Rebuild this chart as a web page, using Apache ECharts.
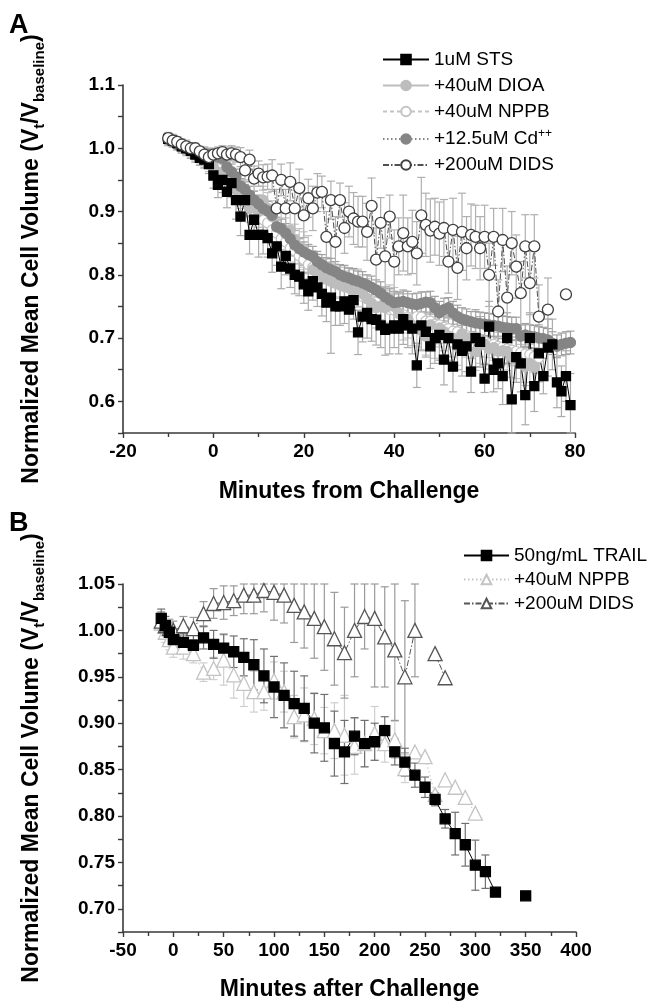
<!DOCTYPE html>
<html><head><meta charset="utf-8">
<script src="https://cdn.jsdelivr.net/npm/echarts@6/dist/echarts.min.js"></script>
<style>html,body{margin:0;padding:0;background:#fff}#c{width:652px;height:1003px}</style>
</head><body><div id="c"></div>
<script>
// ---------- Panel A data (minutes from challenge) ----------
const timeA = [-10,-9,-8,-7,-6,-5,-4,-3,-2,-1,0,1,2,3,4,5,6,7,8,9,10,11,12,13,14,15,16,17,18,19,20,21,22,23,24,25,26,27,28,29,30,31,32,33,34,35,36,37,38,39,40,41,42,43,44,45,46,47,48,49,50,51,52,53,54,55,56,57,58,59,60,61,62,63,64,65,66,67,68,69,70,71,72,73,74,75,76,77,78,79];
const stsA = [1.015,1.012,1.008,1.003,1.000,0.996,0.990,0.985,0.982,0.975,
 0.957,0.942,0.950,0.931,0.945,0.918,0.892,0.918,0.863,0.887,
 0.863,0.863,0.858,0.834,0.845,0.813,0.830,0.810,0.800,0.797,
 0.785,0.774,0.790,0.780,0.770,0.756,0.764,0.750,0.750,0.758,
 0.745,0.760,0.709,0.734,0.740,0.730,0.729,0.720,0.713,0.715,
 0.720,0.715,0.730,0.720,0.715,0.657,0.720,0.710,0.687,0.700,
 0.705,0.666,0.700,0.655,0.690,0.680,0.687,0.647,0.700,0.694,
 0.636,0.718,0.650,0.660,0.640,0.700,0.603,0.670,0.660,0.610,
 0.700,0.624,0.676,0.640,0.685,0.690,0.630,0.616,0.640,0.594];
const stsErrA = [0.010,0.010,0.010,0.010,0.010,0.012,0.012,0.012,0.012,0.015,
 0.020,0.020,0.020,0.025,0.020,0.030,0.030,0.025,0.030,0.030,
 0.035,0.030,0.030,0.030,0.030,0.035,0.030,0.030,0.030,0.030,
 0.030,0.030,0.030,0.030,0.035,0.030,0.088,0.030,0.030,0.035,
 0.035,0.030,0.035,0.040,0.040,0.035,0.040,0.035,0.040,0.040,
 0.035,0.040,0.040,0.035,0.040,0.035,0.040,0.040,0.035,0.040,
 0.040,0.040,0.035,0.040,0.040,0.040,0.040,0.033,0.045,0.040,
 0.022,0.040,0.035,0.040,0.045,0.040,0.070,0.040,0.045,0.047,
 0.040,0.040,0.045,0.028,0.045,0.040,0.040,0.040,0.040,0.050];
const dioaA = [1.012,1.010,1.005,1.000,0.998,0.995,0.990,0.985,0.980,0.975,
 0.970,0.962,0.955,0.948,0.940,0.935,0.925,0.918,0.905,0.910,
 0.900,0.918,0.905,0.892,0.876,0.872,0.865,0.871,0.855,0.845,
 0.840,0.832,0.808,0.805,0.797,0.795,0.790,0.787,0.784,0.782,
 0.780,0.776,0.779,0.770,0.762,0.755,0.748,0.750,0.748,0.752,
 0.750,0.740,0.727,0.730,0.720,0.716,0.712,0.703,0.721,0.698,
 0.716,0.710,0.703,0.700,0.687,0.707,0.700,0.700,0.679,0.690,
 0.690,0.683,0.685,0.679,0.680,0.679,0.670,0.666,0.660,0.655,
 0.660,0.654,null,null,null,null,null,null,null,null];
const dioaErrA = [0.008,0.008,0.008,0.008,0.010,0.010,0.010,0.010,0.012,0.012,
 0.015,0.015,0.015,0.018,0.018,0.020,0.020,0.020,0.022,0.022,
 0.025,0.022,0.025,0.025,0.025,0.025,0.025,0.028,0.025,0.028,
 0.028,0.030,0.030,0.028,0.030,0.030,0.030,0.030,0.032,0.030,
 0.030,0.032,0.030,0.030,0.032,0.030,0.032,0.030,0.030,0.032,
 0.030,0.032,0.030,0.030,0.032,0.030,0.030,0.030,0.032,0.030,
 0.030,0.030,0.032,0.030,0.030,0.030,0.030,0.032,0.030,0.030,
 0.030,0.032,0.030,0.030,0.030,0.030,0.032,0.030,0.030,0.030,
 0.030,0.030,null,null,null,null,null,null,null,null];
const nppbA = [1.016,1.013,1.010,1.005,1.003,0.998,0.996,0.990,0.986,0.980,
 0.974,0.968,0.962,0.952,0.947,0.936,0.929,0.918,0.911,0.902,
 0.897,0.887,0.882,0.871,0.866,0.857,0.852,0.842,0.838,0.830,
 0.824,0.816,0.812,0.804,0.800,0.794,0.792,0.787,0.785,0.781,
 0.779,0.774,0.772,0.766,0.763,0.759,0.757,0.751,0.750,0.745,
 0.744,0.739,0.737,0.733,0.731,0.734,0.733,0.727,0.727,0.722,
 0.721,0.717,0.715,0.711,0.710,0.706,0.704,0.701,0.699,0.696,
 0.695,0.691,0.690,0.687,0.686,0.683,0.681,0.679,0.677,0.675,
 0.674,0.671,0.669,null,null,null,null,null,null,null];
const nppbErrA = [0.008,0.008,0.008,0.010,0.010,0.010,0.010,0.012,0.012,0.012,
 0.015,0.015,0.015,0.018,0.018,0.018,0.020,0.020,0.020,0.020,
 0.022,0.020,0.022,0.022,0.020,0.022,0.022,0.022,0.020,0.022,
 0.022,0.022,0.020,0.022,0.022,0.022,0.025,0.022,0.022,0.025,
 0.022,0.025,0.022,0.022,0.025,0.022,0.025,0.022,0.025,0.022,
 0.025,0.022,0.025,0.025,0.022,0.025,0.022,0.025,0.025,0.022,
 0.025,0.025,0.022,0.025,0.025,0.025,0.022,0.025,0.025,0.025,
 0.025,0.022,0.025,0.025,0.025,0.025,0.025,0.022,0.025,0.025,
 0.025,0.025,0.025,null,null,null,null,null,null,null];
const cdA = [1.014,1.010,1.006,1.003,1.000,0.998,0.996,0.994,0.992,0.990,
 0.988,0.986,0.984,0.970,0.963,0.955,0.940,0.935,0.926,0.918,
 0.912,0.905,0.901,0.894,0.876,0.873,0.866,0.857,0.847,0.841,
 0.836,0.832,0.829,0.821,0.816,0.811,0.808,0.805,0.800,0.797,
 0.795,0.792,0.790,0.787,0.784,0.780,0.776,0.771,0.765,0.760,
 0.756,0.757,0.758,0.756,0.754,0.753,0.755,0.757,0.756,0.748,
 0.740,0.745,0.748,0.740,0.734,0.730,0.728,0.726,0.724,0.723,
 0.722,0.721,0.720,0.719,0.717,0.716,0.715,0.715,0.703,0.705,
 0.703,0.702,0.700,0.699,0.697,0.692,0.687,0.690,0.692,0.693];
const cdErrA = [0.006,0.006,0.006,0.008,0.008,0.008,0.008,0.008,0.010,0.010,
 0.010,0.010,0.010,0.012,0.012,0.012,0.012,0.012,0.014,0.014,
 0.014,0.014,0.015,0.015,0.015,0.015,0.015,0.015,0.016,0.016,
 0.016,0.016,0.016,0.016,0.016,0.016,0.018,0.016,0.016,0.018,
 0.016,0.018,0.016,0.018,0.016,0.018,0.016,0.018,0.016,0.018,
 0.018,0.016,0.018,0.018,0.016,0.018,0.018,0.016,0.018,0.018,
 0.018,0.018,0.016,0.018,0.018,0.018,0.018,0.016,0.018,0.018,
 0.018,0.018,0.018,0.016,0.018,0.018,0.018,0.018,0.018,0.018,
 0.018,0.018,0.018,0.018,0.018,0.018,0.018,0.018,0.018,0.018];
const didsA = [1.016,1.012,1.010,1.006,1.003,1.000,1.000,0.995,0.990,0.986,
 0.990,0.992,0.994,0.990,0.992,0.990,0.986,0.965,0.982,0.952,
 0.960,0.954,0.955,0.957,0.905,0.950,0.905,0.947,0.905,0.937,
 0.894,0.921,0.905,0.930,0.931,0.860,0.918,0.852,0.918,0.874,
 0.900,0.889,0.884,0.884,0.868,0.909,0.824,0.882,0.829,0.892,
 0.821,0.845,0.866,0.845,0.852,0.834,0.894,0.879,0.870,0.876,
 0.865,0.874,0.821,0.871,0.811,0.868,0.842,0.863,0.860,0.842,
 0.860,0.800,0.860,0.742,0.855,0.764,0.850,0.813,0.771,0.845,
 0.787,0.845,0.734,null,0.745,null,null,null,0.769,null];
const didsErrA = [0.008,0.008,0.008,0.008,0.008,0.008,0.008,0.008,0.008,0.008,
 0.010,0.010,0.010,0.012,0.012,0.012,0.015,0.015,0.015,0.020,
 0.020,0.020,0.020,0.025,0.030,0.025,0.030,0.030,0.035,0.030,
 0.035,0.030,0.035,0.030,0.025,0.040,0.030,0.040,0.027,0.040,
 0.040,0.041,0.040,0.040,0.045,0.044,0.050,0.040,0.050,0.034,
 0.050,0.045,0.060,0.045,0.050,0.050,0.060,0.050,0.050,0.045,
 0.050,0.045,0.050,0.050,0.050,0.061,0.050,0.049,0.050,0.050,
 0.050,0.050,0.045,0.050,0.050,0.050,0.050,0.050,0.050,0.050,
 0.050,0.050,0.050,null,0.050,null,null,null,0,null];

// ---------- Panel B data (minutes after challenge) ----------
const timeB = [-12,-8,-4,0,10,20,30,40,50,60,70,80,90,100,110,120,130,140,150,160,170,180,190,200,210,220,230,240,250,260,270,280,290,300,310,320,330,350];
const trailB = [1.013,1.005,0.998,0.990,0.987,0.984,0.992,0.985,0.981,0.977,0.971,0.963,0.951,0.939,0.930,0.921,0.916,0.900,0.895,0.878,0.869,0.886,0.878,0.880,0.892,0.869,0.858,0.844,0.831,0.818,0.797,0.781,0.769,0.747,0.740,0.718,null,0.714];
const trailErrB = [0.010,0.010,0.010,0.010,0.010,0.012,0.012,0.015,0.015,0.017,0.020,0.027,0.029,0.033,0.035,0.035,0.035,0.032,0.036,0.035,0.034,0.020,0.025,0.020,0.015,0.014,0.015,0.013,0.011,0.007,0.010,0.023,0.023,0.027,0.018,0,null,0];
const nppbB = [1.008,0.998,0.990,0.982,0.982,0.975,0.955,0.959,0.968,0.952,0.943,0.934,0.934,0.946,0.934,0.907,0.909,0.905,0.892,0.892,0.887,0.875,0.878,0.889,0.878,0.882,0.851,0.869,0.864,0.823,0.839,0.831,0.820,0.803,null,null,null,null];
const nppbErrB = [0.011,0.011,0.011,0.011,0.013,0.010,0.010,0.012,0.027,0.025,0.025,0.022,0.020,0.020,0.022,0.023,0.029,0.028,0.025,0.030,0.043,0.030,0.025,0.029,0.020,0.020,0.015,0,0,0,0,0,0,0,null,null,null,null];
const didsB = [1.010,1.005,1.002,1.000,1.005,1.002,1.018,1.029,1.030,1.032,1.038,1.038,1.043,1.041,1.038,1.027,1.020,1.013,1.004,0.991,0.976,1.000,1.015,1.013,0.993,0.979,0.950,1.000,null,0.975,0.949,null,null,null,null,null,null,null];
const didsErrB = [0.010,0.010,0.010,0.010,0.010,0.012,0.013,0.016,0.018,0.016,0.020,0.020,0.023,0.030,0.030,0.040,0.039,0.043,0.047,0.050,0.049,0.050,0.035,0.074,0.054,0.076,0.082,0.050,null,0,0,null,null,null,null,null,null,null];

// ---------- chart ----------
const FONT = 'Liberation Sans, Arial, sans-serif';
const AX = '#3a3a3a';
function pairs(xs, ys){ return xs.map((x,i)=>[x, ys[i]==null ? null : ys[i]]); }
function triples(xs, ys, es){ const out=[]; xs.forEach((x,i)=>{ if(ys[i]!=null && es[i]) out.push([x, ys[i], es[i]]); }); return out; }

function errSeries(idx, data, color){
  return {
    type:'custom', xAxisIndex:idx, yAxisIndex:idx, data:data, silent:true,
    encode:{x:0, y:1},
    renderItem:function(params, api){
      const x=api.value(0), y=api.value(1), e=api.value(2);
      const cs=params.coordSys;
      const p1=api.coord([x, y+e]), p2=api.coord([x, y-e]);
      p1[1]=Math.max(p1[1], cs.y); p2[1]=Math.min(p2[1], cs.y+cs.height);
      const w=4, st={stroke:color, lineWidth:1.2};
      return {type:'group', children:[
        {type:'line', shape:{x1:p1[0],y1:p1[1],x2:p2[0],y2:p2[1]}, style:st},
        {type:'line', shape:{x1:p1[0]-w,y1:p1[1],x2:p1[0]+w,y2:p1[1]}, style:st},
        {type:'line', shape:{x1:p2[0]-w,y1:p2[1],x2:p2[0]+w,y2:p2[1]}, style:st}
      ]};
    }
  };
}
function lineSeries(idx, name, data, symbol, size, fill, stroke, lineColor, lineType){
  return {
    type:'line', name:name, xAxisIndex:idx, yAxisIndex:idx, data:data,
    symbol:symbol, symbolSize:size, showSymbol:true, connectNulls:false,
    itemStyle:{color:fill, borderColor:stroke, borderWidth:1.3, opacity:1},
    lineStyle:{color:lineColor, width:1, type:lineType},
    emphasis:{disabled:true}
  };
}

const tickLabel = {fontFamily:FONT, fontWeight:'bold', fontSize:19, color:'#000'};
const axisCommon = {
  axisLine:{show:true, onZero:false, lineStyle:{color:AX, width:1.6}},
  axisTick:{show:true, length:5, lineStyle:{color:AX, width:1.4}},
  splitLine:{show:false}
};
const yName = {
  fontFamily:FONT, fontWeight:'bold', fontSize:23, color:'#000',
  rich:{
    n:{fontFamily:FONT, fontWeight:'bold', fontSize:23, lineHeight:30, color:'#000'},
    s:{fontFamily:FONT, fontWeight:'bold', fontSize:15, lineHeight:14, verticalAlign:'bottom', color:'#000'}
  }
};
const yTitle = '{n|Normalized Mean Cell Volume (V}{s|t}{n|/V}{s|baseline}{n|)}';

const chart = echarts.init(document.getElementById('c'), null, {renderer:'canvas', width:652, height:1003});
chart.setOption({
  animation:false,
  backgroundColor:'#fff',
  graphic:[
    {type:'text', left:9, top:12, style:{text:'A', font:'bold 27px '+FONT, fill:'#000'}},
    {type:'text', left:9, top:510, style:{text:'B', font:'bold 27px '+FONT, fill:'#000'}}
  ],
  grid:[
    {left:123, top:85, width:452, height:348},
    {left:123, top:584, width:453, height:348}
  ],
  legend:[
    {data:['1uM STS','+40uM DIOA','+40uM NPPB','+12.5uM Cd++','+200uM DIDS'],
     orient:'vertical', left:377, top:45, itemWidth:46, itemHeight:12, itemGap:7,
     selectedMode:false,
     formatter:function(n){ return n.indexOf('Cd')>=0 ? '{n|+12.5uM Cd}{p|++}' : '{n|'+n+'}'; },
     textStyle:{fontFamily:FONT, fontSize:19, color:'#000',
       rich:{n:{fontFamily:FONT, fontSize:19, lineHeight:22, color:'#000'},
             p:{fontFamily:FONT, fontSize:12, lineHeight:12, verticalAlign:'top', color:'#000'}}}},
    {data:['50ng/mL TRAIL','+40uM NPPB ','+200uM DIDS '],
     orient:'vertical', left:458, top:541, itemWidth:45, itemHeight:12, itemGap:5,
     selectedMode:false,
     formatter:function(n){ return n.trim(); },
     textStyle:{fontFamily:FONT, fontSize:19, color:'#000'}}
  ],
  xAxis:[
    Object.assign({}, axisCommon, {gridIndex:0, type:'value', min:-20, max:80, interval:20,
      minorTick:{show:true, splitNumber:2, length:4, lineStyle:{color:AX, width:1.4}},
      axisLabel:Object.assign({margin:9}, tickLabel),
      name:'Minutes from Challenge', nameLocation:'middle', nameGap:47,
      nameTextStyle:{fontFamily:FONT, fontWeight:'bold', fontSize:23, color:'#000'}}),
    Object.assign({}, axisCommon, {gridIndex:1, type:'value', min:-50, max:400, interval:50,
      minorTick:{show:true, splitNumber:2, length:4, lineStyle:{color:AX, width:1.4}},
      axisLabel:Object.assign({margin:9}, tickLabel),
      name:'Minutes after Challenge', nameLocation:'middle', nameGap:46,
      nameTextStyle:{fontFamily:FONT, fontWeight:'bold', fontSize:23, color:'#000'}})
  ],
  yAxis:[
    Object.assign({}, axisCommon, {gridIndex:0, type:'value', min:0.55, max:1.1, interval:0.05,
      axisLabel:Object.assign({margin:8, formatter:function(v){ return Math.abs(v*10-Math.round(v*10))<1e-6 ? v.toFixed(1) : ''; }}, tickLabel),
      name:yTitle, nameLocation:'middle', nameRotate:90, nameGap:76, nameTextStyle:yName}),
    Object.assign({}, axisCommon, {gridIndex:1, type:'value', min:0.675, max:1.05, interval:0.025,
      axisLabel:Object.assign({margin:8, formatter:function(v){ return Math.abs(v*20-Math.round(v*20))<1e-6 ? v.toFixed(2) : ''; }}, tickLabel),
      name:yTitle, nameLocation:'middle', nameRotate:90, nameGap:76, nameTextStyle:yName})
  ],
  series:[
    errSeries(0, triples(timeA, nppbA, nppbErrA), '#c4c4c4'),
    lineSeries(0, '+40uM NPPB', pairs(timeA, nppbA), 'circle', 10, '#fff', '#c4c4c4', '#c4c4c4', [4,3]),
    errSeries(0, triples(timeA, dioaA, dioaErrA), '#c4c4c4'),
    lineSeries(0, '+40uM DIOA', pairs(timeA, dioaA), 'circle', 10, '#bdbdbd', '#bdbdbd', '#bdbdbd', 'solid'),
    errSeries(0, triples(timeA, cdA, cdErrA), '#a0a0a0'),
    lineSeries(0, '+12.5uM Cd++', pairs(timeA, cdA), 'circle', 10, '#858585', '#858585', '#858585', [1.5,2.5]),
    errSeries(0, triples(timeA, stsA, stsErrA), '#ababab'),
    lineSeries(0, '1uM STS', pairs(timeA, stsA), 'rect', 9, '#000', '#000', '#000', 'solid'),
    errSeries(0, triples(timeA, didsA, didsErrA), '#b0b0b0'),
    lineSeries(0, '+200uM DIDS', pairs(timeA, didsA), 'circle', 11, '#fff', '#404040', '#505050', [6,2,1.5,2]),

    errSeries(1, triples(timeB, nppbB, nppbErrB), '#cfcfcf'),
    lineSeries(1, '+40uM NPPB ', pairs(timeB, nppbB), 'triangle', 14, '#fff', '#c4c4c4', '#c4c4c4', [1.5,2.5]),
    errSeries(1, triples(timeB, didsB, didsErrB), '#9a9a9a'),
    lineSeries(1, '+200uM DIDS ', pairs(timeB, didsB), 'triangle', 14, '#fff', '#555', '#555', [6,2,1.5,2]),
    errSeries(1, triples(timeB, trailB, trailErrB), '#707070'),
    lineSeries(1, '50ng/mL TRAIL', pairs(timeB, trailB), 'rect', 10, '#000', '#000', '#000', 'solid')
  ]
});
</script>
</body></html>
